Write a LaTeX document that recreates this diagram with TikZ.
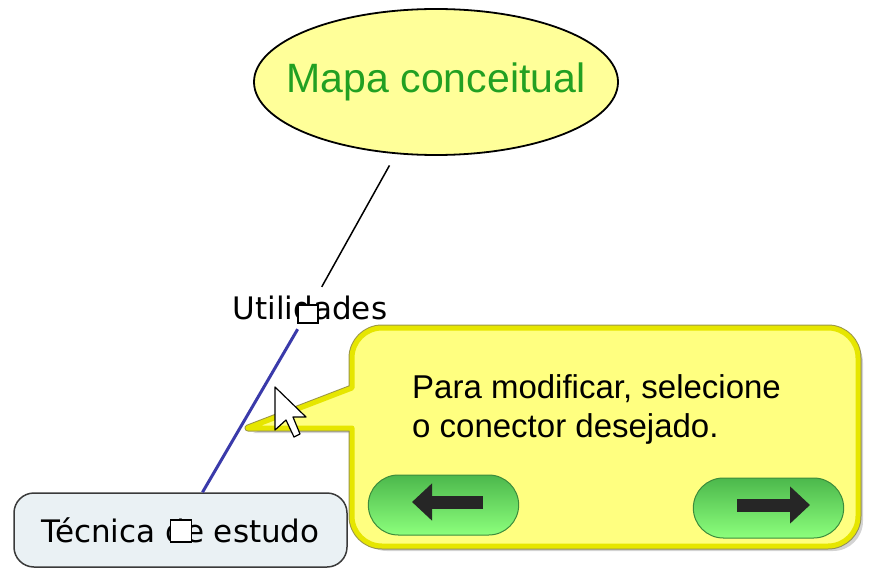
\documentclass[tikz,border=0pt]{standalone}
\usepackage{fontspec}
\usetikzlibrary{shapes.geometric,shapes.misc,arrows.meta,shadows}
\newfontfamily\dejavu{DejaVu Sans}
\newfontfamily\arial{Liberation Sans}
\definecolor{ellfill}{HTML}{FFFF99}
\definecolor{mapgreen}{HTML}{22A022}
\definecolor{tecfill}{HTML}{EAF1F4}
\definecolor{tecborder}{HTML}{3A3A3A}
\definecolor{linkblue}{HTML}{3A3AAA}
\definecolor{tipfill}{HTML}{FFFF80}
\definecolor{tipborder}{HTML}{E6E600}
\definecolor{btntop}{HTML}{4CB84C}
\definecolor{btnbottom}{HTML}{8CFF7C}
\definecolor{btnborder}{HTML}{3C8C3C}
\begin{document}
\begin{tikzpicture}[x=1pt,y=-1pt,
	labeltext/.style={font=\dejavu\fontsize{31}{37}\selectfont},
	handle/.style={draw, fill=white, line width=1.3pt, inner sep=0pt},
	button/.style={rounded rectangle, draw=btnborder, line width=1pt, top color=btntop, bottom color=btnbottom, minimum width=157pt, minimum height=60pt},
	bigarrow/.style={line width=13pt, black!85, -{Triangle[length=20pt,width=36pt]}}]
	\useasboundingbox (0,0) rectangle (877,577);

	% concepts
	\node[draw, ellipse, line width=1.8pt, fill=ellfill, minimum width=364pt, minimum height=146pt, inner sep=0pt, text=mapgreen, font=\arial\fontsize{41}{48}\selectfont] (mapa) at (436,82) {\makebox[0pt]{Mapa conceitual}};
	\node[labeltext, inner xsep=4pt, inner ysep=9pt] (util) at (310,308) {Utilidades};
	\node[draw=tecborder, line width=1.5pt, rounded corners=20pt, fill=tecfill, labeltext, minimum width=333pt, minimum height=74pt] (tecnica) at (180.5,530) {Técnica de estudo};

	% links
	\draw[line width=1.5pt, shorten <=13pt] (mapa) -- (util);
	\draw[line width=3pt, linkblue] (util) -- (tecnica);

	% selection handles
	\node[handle, minimum width=20pt, minimum height=18pt] (hutil) at (308,314) {};
	\node[handle, minimum width=21pt, minimum height=22pt] (htec) at (181,531) {};

	% callout
	\draw[fill=tipfill, draw=tipborder, line width=5pt, line join=round, preaction={draw=yellow!55!black, line width=7pt, line join=round}, drop shadow={shadow xshift=5pt, shadow yshift=-5pt, opacity=0.35}]
		(248,428) -- (352,388) -- (352,358) arc[start angle=180, end angle=270, radius=30]
		-- (828,328) arc[start angle=270, end angle=360, radius=30]
		-- (858,516) arc[start angle=0, end angle=90, radius=30]
		-- (382,546) arc[start angle=90, end angle=180, radius=30]
		-- (352,428) -- cycle;
	\node[anchor=north west, inner sep=0pt, align=left, font=\arial\fontsize{33}{39}\selectfont] (hint) at (412,374) {Para modificar, selecione\\o conector desejado.};

	\node[button] (btnleft) at (443.5,505) {};
	\node[button] (btnright) at (768.5,508) {};
	\draw[bigarrow] ([xshift=39.5pt,yshift=3pt]btnleft.center) -- ([xshift=-31.5pt,yshift=3pt]btnleft.center);
	\draw[bigarrow] ([xshift=-31.5pt,yshift=3pt]btnright.center) -- ([xshift=41.5pt,yshift=3pt]btnright.center);

	% mouse pointer
	\draw[fill=white, line width=1.2pt, line join=round]
		(275,387) -- (275,430) -- (286,420) -- (294,437) -- (300,434) -- (293,417) -- (306,417) -- cycle;
\end{tikzpicture}
\end{document}
